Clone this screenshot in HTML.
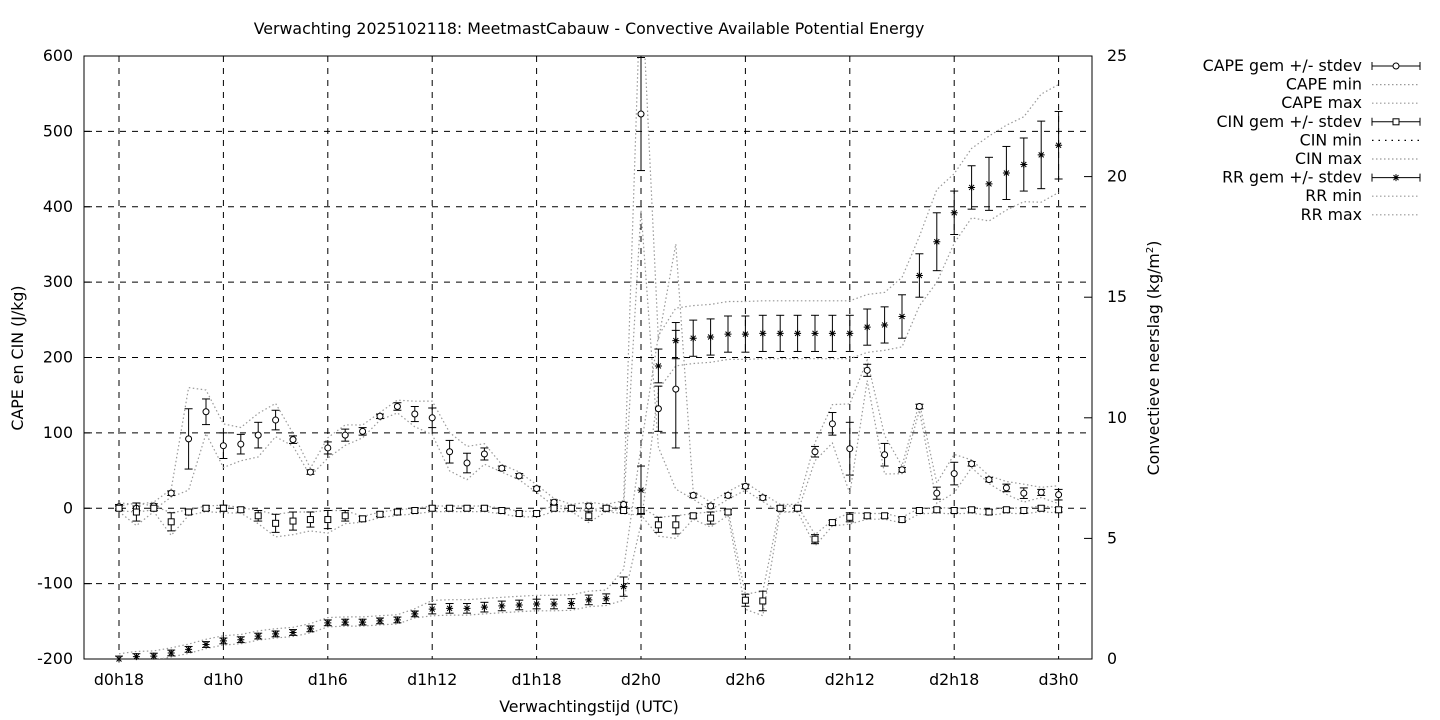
<!DOCTYPE html>
<html><head><meta charset="utf-8"><style>
html,body{margin:0;padding:0;background:#fff;}
svg{display:block;font-family:"DejaVu Sans","Liberation Sans",sans-serif;}
</style></head><body>
<svg id="s" width="1440" height="720" xmlns="http://www.w3.org/2000/svg"></svg>
<script>
const s=document.getElementById('s');
let h='';
const FS=15.8;
const L=84,R=1092,T=56,B=659;
const X=hr=>119+(hr-18)*17.4;
const Y=v=>B-(v+200)*(B-T)/800;
const Y2=v=>B-v*(B-T)/25;
h+=`<text x="589" y="34" font-size="${FS}" text-anchor="middle">Verwachting 2025102118: MeetmastCabauw - Convective Available Potential Energy</text>`;
for(let v=-200;v<=600;v+=100){const y=Y(v);
 if(v>-200&&v<600)h+=`<line x1="${L}" y1="${y}" x2="${R}" y2="${y}" stroke="#000" stroke-dasharray="6,6" stroke-width="1"/>`;
 h+=`<line x1="${L}" y1="${y}" x2="${L+8}" y2="${y}" stroke="#000"/>`;
 h+=`<text x="${L-11}" y="${y+5}" font-size="${FS}" text-anchor="end">${v}</text>`;}
for(let v=0;v<=25;v+=5){const y=Y2(v);h+=`<line x1="${R-8}" y1="${y}" x2="${R}" y2="${y}" stroke="#000"/><text x="${R+15}" y="${y+5}" font-size="${FS}">${v}</text>`;}
const xl=['d0h18','d1h0','d1h6','d1h12','d1h18','d2h0','d2h6','d2h12','d2h18','d3h0'];
xl.forEach((t,i)=>{const x=X(18+i*6);
 h+=`<line x1="${x}" y1="${T}" x2="${x}" y2="${B}" stroke="#000" stroke-dasharray="6,6"/>`;
 h+=`<text x="${x}" y="685" font-size="${FS}" text-anchor="middle">${t}</text>`;});
h+=`<rect x="${L}" y="${T}" width="${R-L}" height="${B-T}" fill="none" stroke="#000"/>`;
h+=`<text x="589" y="712" font-size="${FS}" text-anchor="middle">Verwachtingstijd (UTC)</text>`;
h+=`<text transform="translate(23,358) rotate(-90)" font-size="${FS}" text-anchor="middle">CAPE en CIN (J/kg)</text>`;
h+=`<text transform="translate(1159,358) rotate(-90)" font-size="${FS}" text-anchor="middle">Convectieve neerslag (kg/m<tspan dy="-6" font-size="10">2</tspan><tspan dy="6">)</tspan></text>`;
const cape=[2,0,3,20,92,128,83,85,97,117,91,48,80,97,102,122,135,125,120,75,60,72,53,43,26,8,0,3,0,5,523,132,158,17,3,17,29,14,0,0,75,112,79,183,71,51,135,20,46,59,38,27,20,21,18];
const capeSd={22:40,23:17,24:17,25:13,26:17,27:13,28:5,30:8,31:8,32:5,33:3,34:5,35:10,36:13,37:15,38:13,39:8,48:75,49:30,50:78,51:3,58:7,59:15,60:35,61:8,62:15,65:8,66:15,67:3,68:3,69:5,70:7,71:4,72:7};
const cin=[0,-5,0,-18,-5,0,0,-2,-10,-20,-17,-15,-15,-10,-14,-8,-5,-3,0,0,0,0,-3,-7,-7,0,0,-10,0,-3,-3,-22,-22,-10,-13,-5,-122,-123,0,0,-41,-19,-12,-10,-10,-15,-3,-2,-3,-2,-5,-2,-3,0,-2];
const cinSd={19:12,21:12,24:4,26:7,27:12,28:12,29:10,30:12,31:7,45:6,48:4,49:10,50:12,52:8,54:8,55:13,58:6,60:6};
const rr=[0,.1,.12,.25,.4,.6,.75,.8,.95,1.04,1.1,1.25,1.5,1.53,1.53,1.58,1.62,1.87,2.07,2.1,2.1,2.15,2.2,2.24,2.28,2.28,2.3,2.45,2.5,3.0,7.0,12.15,13.2,13.3,13.35,13.47,13.47,13.5,13.5,13.5,13.5,13.5,13.5,13.76,13.85,14.2,15.9,17.3,18.5,19.55,19.7,20.15,20.5,20.9,21.3];
const rrSd=hr=>hr<36?0.12:hr<47?0.2:hr==47?0.4:hr==48?1.0:hr==49?0.7:hr<=62?0.75:hr<=64?0.9:hr==65?1.2:hr<=67?0.9:hr<=70?1.1:1.4;
const dots='stroke="#999" stroke-width="1.2" fill="none" stroke-dasharray="1.5,2.5"';
function line(arr,f,yf){let p=arr.map((v,i)=>`${X(18+i).toFixed(1)},${yf(f(v,18+i)).toFixed(1)}`).join(' ');return `<polyline points="${p}" ${dots}/>`;}
h+=`<defs><clipPath id="c"><rect x="${L}" y="${T}" width="${R-L}" height="${B-T}"/></clipPath></defs><g clip-path="url(#c)">`;
h+=line(cape,(v,hr)=>v+(capeSd[hr]||3)*1.7+(hr==48?60:hr==49?40:hr==50?60:0),Y);
h+=line(cape,(v,hr)=>Math.max(hr==19?-45:-999,v-(capeSd[hr]||3)*1.7),Y);
h+=line(cin,(v,hr)=>v+(cinSd[hr]||3),Y);
h+=line(cin,(v,hr)=>v-(cinSd[hr]||3)*1.5,Y);
h+=line(rr,(v,hr)=>v+rrSd(hr)*1.8,Y2);
h+=line(rr,(v,hr)=>v-rrSd(hr)*1.4,Y2);
h+=`</g>`;
function eb(x,y1,y2){return `<line x1="${x}" y1="${y1}" x2="${x}" y2="${y2}" stroke="#000"/><line x1="${x-4}" y1="${y1}" x2="${x+4}" y2="${y1}" stroke="#000"/><line x1="${x-4}" y1="${y2}" x2="${x+4}" y2="${y2}" stroke="#000"/>`;}
function circ(x,y){return `<circle cx="${x}" cy="${y}" r="3" fill="#fff" stroke="#000"/>`;}
function sq(x,y){return `<rect x="${x-3}" y="${y-3}" width="6" height="6" fill="#fff" stroke="#000"/>`;}
function star(x,y){return `<path d="M${x-3.5} ${y}H${x+3.5}M${x} ${y-3.5}V${y+3.5}M${x-2.5} ${y-2.5}L${x+2.5} ${y+2.5}M${x-2.5} ${y+2.5}L${x+2.5} ${y-2.5}" stroke="#000" fill="none"/>`;}
cape.forEach((v,i)=>{const hr=18+i,x=X(hr),sd=capeSd[hr]||3;h+=eb(x,Y(v+sd),Y(v-sd))+circ(x,Y(v));});
cin.forEach((v,i)=>{const hr=18+i,x=X(hr),sd=cinSd[hr]||3;h+=eb(x,Y(v+sd),Y(v-sd))+sq(x,Y(v));});
rr.forEach((v,i)=>{const hr=18+i,x=X(hr),sd=rrSd(hr);h+=eb(x,Y2(v+sd),Y2(Math.max(0,v-sd)))+star(x,Y2(v));});
const lg=[['CAPE gem +/- stdev','c'],['CAPE min','d'],['CAPE max','d'],['CIN gem +/- stdev','s'],['CIN min','d2'],['CIN max','d'],['RR gem +/- stdev','x'],['RR min','d'],['RR max','d']];
lg.forEach((e,i)=>{const y=71+i*18.6,yy=y-5,t=e[1];
 h+=`<text x="1362" y="${y}" font-size="${FS}" text-anchor="end">${e[0]}</text>`;
 if(t=='c'||t=='s'||t=='x'){
  h+=`<line x1="1372" y1="${yy}" x2="1420" y2="${yy}" stroke="#000"/><line x1="1372" y1="${yy-4}" x2="1372" y2="${yy+4}" stroke="#000"/><line x1="1420" y1="${yy-4}" x2="1420" y2="${yy+4}" stroke="#000"/>`;
  h+= t=='c'?circ(1396,yy):t=='s'?sq(1396,yy):star(1396,yy);
 } else if(t=='d2'){
  h+=`<line x1="1372" y1="${yy}" x2="1420" y2="${yy}" stroke="#000" stroke-width="1.2" stroke-dasharray="1.5,5"/>`;
 } else {
  h+=`<line x1="1372" y1="${yy}" x2="1420" y2="${yy}" ${dots}/>`;
 }
});
s.innerHTML=h;
</script>
</body></html>
